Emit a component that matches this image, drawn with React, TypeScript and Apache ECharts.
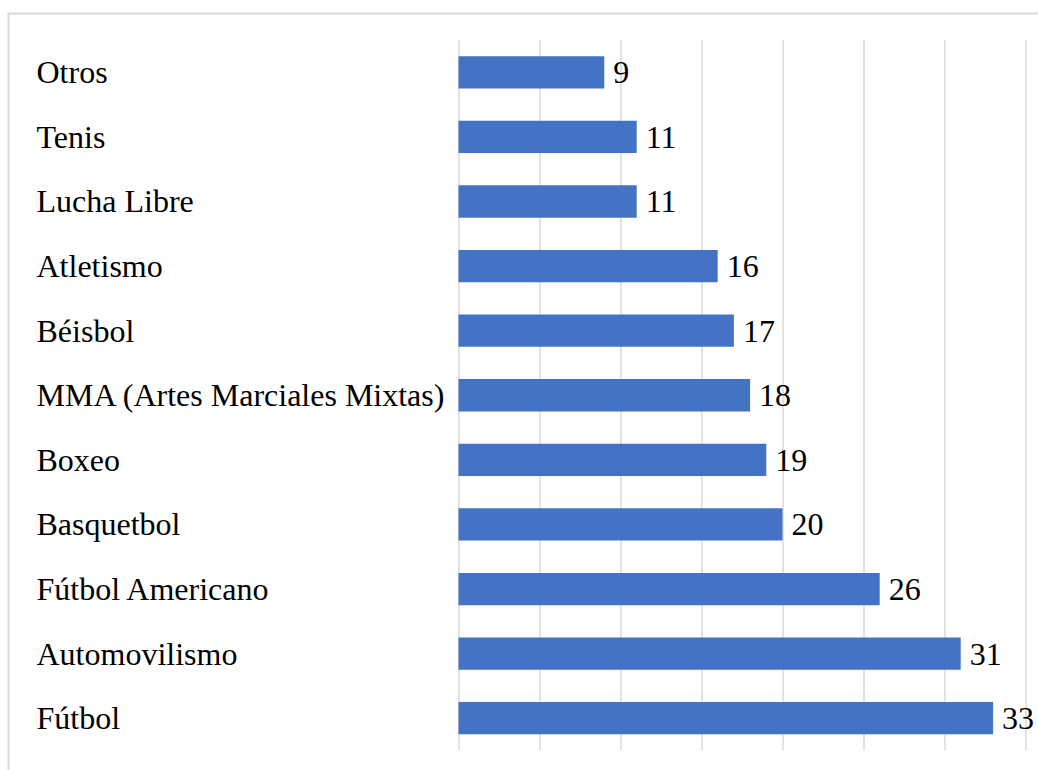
import React, { useEffect, useRef } from "react";
import * as echarts from "echarts";

const categories = [
  "Fútbol",
  "Automovilismo",
  "Fútbol Americano",
  "Basquetbol",
  "Boxeo",
  "MMA (Artes Marciales Mixtas)",
  "Béisbol",
  "Atletismo",
  "Lucha Libre",
  "Tenis",
  "Otros",
];
const values = [33, 31, 26, 20, 19, 18, 17, 16, 11, 11, 9];

const FONT = "'Liberation Serif', 'Times New Roman', serif";

export default function App() {
  const ref = useRef<HTMLDivElement>(null);
  useEffect(() => {
    const chart = echarts.init(ref.current!, null, { renderer: "svg" });
    chart.setOption({
      animation: false,
      backgroundColor: "#ffffff",
      graphic: [
        {
          type: "rect",
          shape: { x: 8.5, y: 13.5, width: 1100, height: 900 },
          style: { fill: "none", stroke: "#d9d9d9", lineWidth: 2 },
          silent: true,
        },
      ],
      grid: { left: 458.5, right: 12.5, top: 40, bottom: 19.5, containLabel: false },
      xAxis: {
        type: "value",
        min: 0,
        max: 35,
        interval: 5,
        axisLabel: { show: false },
        axisLine: { show: false },
        axisTick: { show: false },
        splitLine: { show: true, lineStyle: { color: "#d9d9d9", width: 1.5 } },
      },
      yAxis: {
        type: "category",
        data: categories,
        axisLine: { show: false },
        axisTick: { show: false },
        axisLabel: {
          align: "left",
          margin: 422,
          color: "#000000",
          fontSize: 32,
          fontFamily: FONT,
        },
      },
      series: [
        {
          type: "bar",
          data: values,
          barCategoryGap: "50%",
          itemStyle: { color: "#4472C4" },
          label: {
            show: true,
            position: "right",
            distance: 9,
            color: "#000000",
            fontSize: 32,
            fontFamily: FONT,
          },
        },
      ],
    });
    return () => chart.dispose();
  }, []);
  return (
    <div
      ref={ref}
      style={{ position: "fixed", left: 0, top: 0, width: 1038, height: 770 }}
    />
  );
}
